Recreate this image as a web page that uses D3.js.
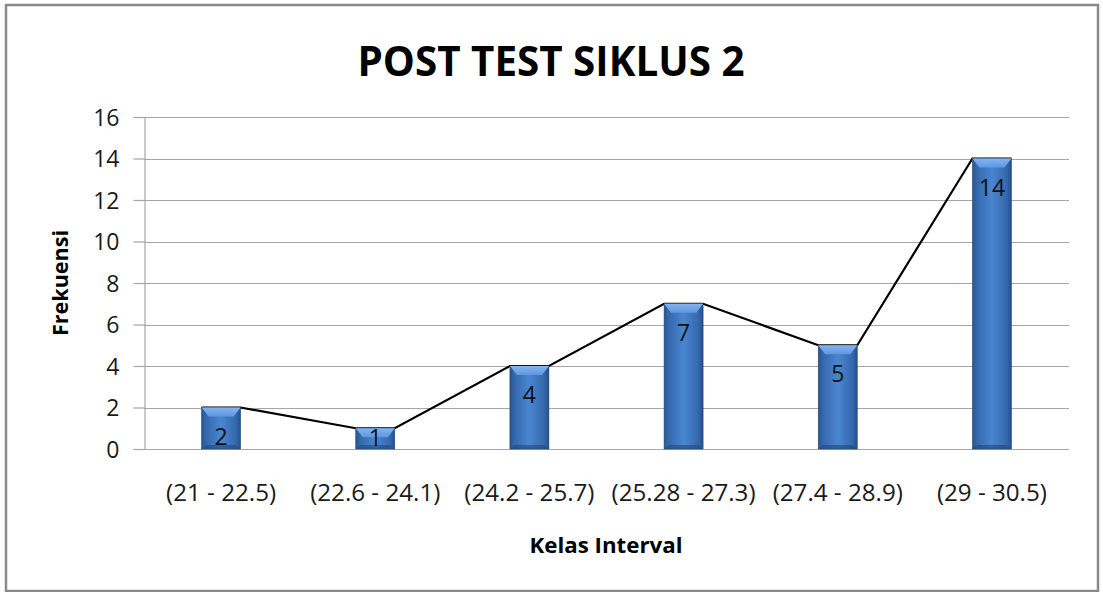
<!DOCTYPE html>
<html><head><meta charset="utf-8">
<script src="https://cdn.jsdelivr.net/npm/d3@7"></script>
<style>body{margin:0;background:#fff}svg{display:block}text{font-family:"Open Sans",sans-serif}</style>
</head><body>
<svg id="c" width="1103" height="592"></svg>
<script>
const categories = ["(21 - 22.5)","(22.6 - 24.1)","(24.2 - 25.7)","(25.28 - 27.3)","(27.4 - 28.9)","(29 - 30.5)"];
const values = [2,1,4,7,5,14];
const yTicks = [0,2,4,6,8,10,12,14,16];
const title = "POST TEST SIKLUS 2";
const yTitle = "Frekuensi";
const xTitle = "Kelas Interval";

const svg = d3.select("#c");
const L=144, R=1069, T=117, B=449;
const x = d3.scaleBand().domain(categories).range([L,R]).paddingInner(0.747).paddingOuter(0.3735);
const y = d3.scaleLinear().domain([0,16]).range([B,T]);

svg.append("rect").attr("x",6).attr("y",5).attr("width",1092).attr("height",586)
  .attr("fill","#fff").attr("stroke","#8a8a8a").attr("stroke-width",2.5);

const defs = svg.append("defs");
const g1 = defs.append("linearGradient").attr("id","bar").attr("x1",0).attr("x2",1).attr("y1",0).attr("y2",0);
[[0,"#28558f"],[0.12,"#3468ad"],[0.5,"#4a86d0"],[0.88,"#3468ad"],[1,"#244f86"]].forEach(s=>g1.append("stop").attr("offset",s[0]).attr("stop-color",s[1]));
const g2 = defs.append("linearGradient").attr("id","top").attr("x1",0).attr("x2",0).attr("y1",0).attr("y2",1);
[[0,"#84b4f0"],[1,"#5f97de"]].forEach(s=>g2.append("stop").attr("offset",s[0]).attr("stop-color",s[1]));

// gridlines
svg.append("g").selectAll("line").data(yTicks).join("line")
  .attr("x1",L).attr("x2",R).attr("y1",d=>Math.round(y(d))+0.5).attr("y2",d=>Math.round(y(d))+0.5)
  .attr("stroke","#a6a6a6").attr("stroke-width",1.2);
// y axis
const ya = svg.append("g").attr("transform",`translate(${L+0.5},0)`)
  .call(d3.axisLeft(y).tickValues(yTicks).tickSize(11).tickPadding(14));
ya.select(".domain").attr("stroke","#a6a6a6").attr("stroke-width",1.2);
ya.selectAll(".tick line").attr("stroke","#a6a6a6").attr("stroke-width",1.2);
ya.selectAll(".tick text").attr("font-size",23).attr("fill","#1a1a1a").attr("font-family","'Open Sans',sans-serif")
  .attr("dy","0.36em");

// line connecting bar tops
const pts = [];
categories.forEach((c,i)=>{pts.push([x(c),y(values[i])]);pts.push([x(c)+x.bandwidth(),y(values[i])]);});
svg.append("path").attr("d",d3.line()(pts)).attr("fill","none").attr("stroke","#000").attr("stroke-width",2.2);

// bars
const bw = x.bandwidth();
const bars = svg.append("g").selectAll("g").data(categories).join("g");
bars.append("rect").attr("x",d=>x(d)).attr("y",(d,i)=>y(values[i])).attr("width",bw)
  .attr("height",(d,i)=>B-y(values[i])).attr("fill","url(#bar)").attr("stroke","#22497c").attr("stroke-width",0.6);
bars.append("path").attr("d",(d,i)=>{const x0=x(d),y0=y(values[i]),h=Math.min(9,(B-y0)/2);
  return `M${x0},${y0}L${x0+bw},${y0}L${x0+bw-7},${y0+h}L${x0+7},${y0+h}Z`;}).attr("fill","url(#top)");
bars.append("path").attr("d",(d,i)=>{const x0=x(d),y0=y(values[i]),h=Math.min(4,(B-y0)/4);
  return `M${x0},${B}L${x0+bw},${B}L${x0+bw-5},${B-h}L${x0+5},${B-h}Z`;}).attr("fill","#21487a").attr("opacity",0.6);
bars.append("text").attr("x",d=>x(d)+bw/2).attr("y",(d,i)=>Math.min(y(values[i])+37, B-3))
  .attr("text-anchor","middle").attr("font-size",23).attr("fill","#111").text((d,i)=>values[i]);

// x labels
const xl = svg.append("g").selectAll("text").data(categories).join("text")
  .attr("x",d=>x(d)+bw/2).attr("y",501).attr("text-anchor","middle").attr("font-size",23).attr("fill","#1a1a1a")
  .text(d=>d);
const f = 110 / xl.nodes()[0].getComputedTextLength();
xl.each(function(){const w=this.getComputedTextLength();d3.select(this).attr("textLength",w*f).attr("lengthAdjust","spacingAndGlyphs");});

svg.append("text").attr("x",551).attr("y",76).attr("text-anchor","middle").attr("font-size",42).attr("font-weight","bold")
  .attr("textLength",387).attr("lengthAdjust","spacingAndGlyphs").text(title);
svg.append("text").attr("transform","translate(68,283) rotate(-90)").attr("text-anchor","middle").attr("font-size",21).attr("font-weight","bold")
  .attr("textLength",106).attr("lengthAdjust","spacingAndGlyphs").text(yTitle);
svg.append("text").attr("x",606).attr("y",553).attr("text-anchor","middle").attr("font-size",21).attr("font-weight","bold")
  .attr("textLength",153).attr("lengthAdjust","spacingAndGlyphs").text(xTitle);
</script></body></html>
